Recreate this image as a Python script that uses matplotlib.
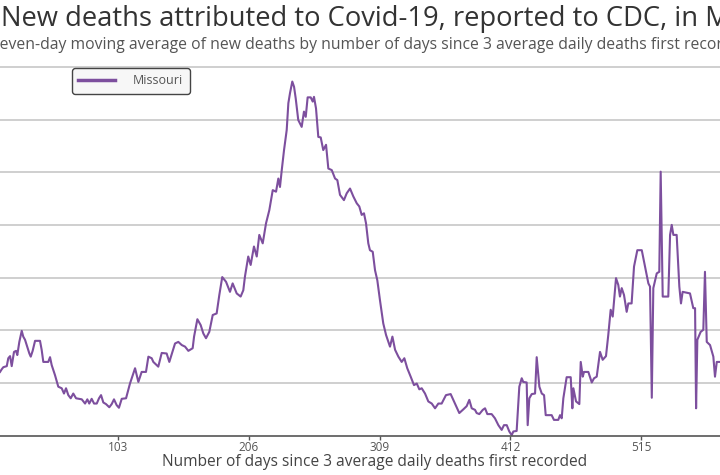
import matplotlib
matplotlib.use("Agg")
from matplotlib import pyplot as plt

plt.rcParams['font.family'] = ['Open Sans', 'DejaVu Sans']

# days since 3 average daily deaths first recorded
days = [9.8, 11.1, 12.4, 15.1, 16.3, 17.7, 19.0, 20.8, 22.4, 23.4, 25.0, 26.9, 28.1, 29.5,
        30.8, 32.9, 34.0, 35.5, 37.4, 41.3, 42.6, 43.9, 47.8, 49.2, 50.5, 53.1, 55.7, 58.4,
        60.2, 61.8, 63.6, 65.5, 67.5, 69.7, 74.2, 76.8, 78.6, 80.1, 82.0, 83.9, 86.0, 87.8,
        89.4, 91.2, 93.3, 95.9, 97.8, 99.6, 101.7, 103.5, 105.7, 109.1, 112.2, 116.2, 118.8,
        121.4, 124.8, 126.7, 129.3, 130.6, 134.5, 137.2, 141.1, 143.2, 147.7, 150.3, 153.0,
        155.6, 158.2, 161.6, 162.7, 165.3, 167.9, 170.0, 172.1, 174.7, 177.4, 180.5, 182.6,
        184.9, 187.9, 191.0, 193.1, 196.3, 199.4, 201.5, 202.8, 205.4, 207.3, 209.9, 212.1,
        214.1, 216.8, 219.4, 222.0, 224.7, 227.3, 229.1, 230.4, 231.8, 233.6, 235.7, 237.0,
        238.3, 240.1, 241.5, 242.8, 244.8, 247.5, 249.3, 250.7, 252.2, 254.6, 256.2, 257.2,
        258.8, 260.6, 262.5, 264.5, 266.7, 268.5, 271.2, 273.8, 275.6, 277.7, 280.8, 283.0,
        285.6, 288.2, 290.9, 292.9, 294.8, 296.6, 298.2, 300.0, 301.3, 303.5, 305.3, 307.1,
        309.2, 311.8, 314.0, 317.1, 319.0, 321.1, 323.7, 326.3, 328.4, 330.7, 333.4, 336.0,
        338.2, 340.2, 342.1, 344.7, 347.3, 350.0, 352.6, 355.2, 357.8, 361.2, 364.9, 368.3,
        371.7, 374.9, 377.5, 379.6, 381.5, 384.1, 385.4, 387.5, 390.2, 392.0, 393.8, 397.2,
        399.8, 402.5, 405.1, 406.9, 409.1, 411.1, 413.0, 414.3, 416.9, 419.0, 420.9, 422.1,
        424.8, 425.6, 426.9, 428.8, 431.4, 432.7, 434.8, 436.7, 438.5, 439.8, 444.5, 446.3,
        449.7, 451.1, 452.4, 453.7, 456.3, 459.5, 460.8, 461.6, 463.7, 466.3, 467.4, 469.0,
        470.0, 473.4, 476.1, 477.9, 480.0, 482.6, 484.7, 487.3, 489.1, 491.0, 492.6, 495.2,
        497.0, 498.3, 499.7, 501.5, 503.6, 504.9, 507.5, 509.4, 512.0, 515.5, 518.1, 520.7,
        522.0, 523.4, 524.6, 527.3, 529.3, 530.4, 532.0, 536.4, 537.8, 539.1, 540.4, 543.0,
        545.1, 546.4, 547.7, 553.5, 556.1, 557.5, 558.3, 559.3, 561.9, 564.0, 565.3, 566.7,
        569.3, 571.9, 573.2, 574.6, 577.2]

# seven-day moving average of new deaths
deaths = [12.1, 12.6, 13.0, 13.2, 14.7, 15.1, 13.2, 15.9, 16.1, 15.3, 17.8, 19.9, 18.8, 18.2,
          17.2, 15.6, 15.0, 16.1, 18.0, 18.0, 16.3, 14.0, 14.0, 14.9, 13.4, 11.5, 9.3, 9.0,
          8.0, 9.0, 7.7, 7.1, 8.0, 7.1, 6.9, 6.1, 6.9, 6.1, 7.0, 6.1, 6.1, 7.1,
          7.7, 6.3, 6.0, 5.4, 6.0, 6.9, 5.8, 5.3, 7.0, 7.1, 9.9, 12.8, 10.2,
          12.1, 12.1, 15.0, 14.7, 14.0, 13.1, 15.7, 15.6, 14.0, 17.5, 17.8, 17.2,
          16.9, 16.1, 16.6, 18.8, 22.1, 21.0, 19.4, 18.5, 19.7, 22.9, 23.2, 26.7,
          30.1, 29.2, 27.3, 28.9, 27.0, 26.4, 27.6, 30.2, 34.0, 32.4, 35.9, 34.0,
          38.1, 36.5, 40.3, 42.8, 46.6, 46.3, 48.8, 47.2, 50.4, 54.2, 58.0, 63.1,
          65.0, 67.2, 66.2, 64.0, 59.9, 58.6, 61.5, 60.5, 64.2, 64.2, 63.4, 64.3,
          62.1, 56.7, 56.6, 54.2, 55.2, 50.7, 50.4, 48.8, 48.5, 45.7, 44.7, 46.0,
          46.9, 45.4, 44.1, 43.5, 41.9, 42.2, 40.3, 36.5, 35.2, 34.9, 31.4, 29.5,
          25.7, 21.3, 19.1, 16.9, 18.8, 16.3, 15.0, 14.0, 14.7, 12.8, 11.2, 9.6,
          9.9, 8.8, 9.0, 8.0, 6.5, 6.1, 5.2, 6.1, 6.1, 7.7, 7.9, 6.1,
          4.3, 5.0, 5.6, 6.8, 5.2, 4.9, 4.3, 4.1, 4.9, 5.2, 4.1, 4.1,
          3.3, 2.0, 1.1, 2.0, 2.0, 0.8, 0.1, 0.8, 0.9, 9.3, 10.9, 10.2,
          10.1, 2.0, 7.1, 7.9, 8.0, 14.9, 9.3, 8.0, 7.7, 3.9, 3.9, 3.0,
          3.0, 3.9, 3.3, 7.1, 11.1, 11.1, 5.2, 9.0, 6.5, 6.0, 14.0, 11.2,
          12.1, 12.1, 10.1, 10.9, 11.2, 15.9, 14.4, 15.1, 19.1, 23.9, 22.6, 29.9,
          28.6, 26.4, 28.0, 26.7, 23.5, 25.1, 25.1, 32.1, 35.2, 35.2, 32.1, 28.9,
          28.3, 7.2, 28.0, 30.8, 31.1, 50.1, 26.4, 26.4, 38.1, 40.0, 38.1, 38.1,
          28.3, 25.1, 27.3, 27.0, 24.2, 24.2, 5.2, 18.2, 19.7, 20.1, 31.1, 17.8,
          17.2, 15.0, 11.2, 14.0, 14.0]

xticks = [103, 206, 309, 412, 515]
gridlines = [10, 20, 30, 40, 50, 60, 70]

fig = plt.figure(figsize=(7.2, 4.75), dpi=100)
# the original is a crop of a wider chart: axes run past the left and right edges
ax = fig.add_axes([-12.4 / 720, 39.3 / 475, 620 * 1.269 / 720, 72 * 5.27 / 475])
ax.plot(days, deaths, color='#7d4f9e', lw=1.5, label='Missouri')

ax.set_xlim(0, 620)
ax.set_ylim(0, 72)
ax.set_xticks(xticks)
ax.set_yticks(gridlines)
ax.set_yticklabels([])
ax.tick_params(axis='y', length=0)
ax.tick_params(axis='x', direction='out', length=3, width=1, color='#555555',
               labelsize=8.5, labelcolor='#555555', pad=1)
ax.yaxis.grid(True, color='#cccccc', lw=1.3)
ax.set_axisbelow(True)
for s in ['left', 'right', 'top']:
    ax.spines[s].set_visible(False)
ax.spines['bottom'].set_color('#555555')
ax.spines['bottom'].set_linewidth(1.2)

fig.text(375 / 720, (475 - 462) / 475, 'Number of days since 3 average daily deaths first recorded',
         ha='center', va='center', fontsize=11.2, color='#444444')
fig.text(1 / 720, (475 - 19) / 475, 'New deaths attributed to Covid-19, reported to CDC, in Missouri',
         ha='left', va='center', fontsize=19.7, color='#333333')
fig.text(-9 / 720, (475 - 45) / 475,
         'Seven-day moving average of new deaths by number of days since 3 average daily deaths first recorded',
         ha='left', va='center', fontsize=11.3, color='#555555')

leg = ax.legend(loc='upper left', bbox_to_anchor=(72 / 720, 1 - 68 / 475),
                bbox_transform=fig.transFigure, fontsize=9, handlelength=2.9,
                handletextpad=1.5, borderpad=0.5, borderaxespad=0, fancybox=True,
                edgecolor='#444444', facecolor='#f7f7f7', framealpha=1)
for t in leg.get_texts():
    t.set_color('#555555')
for h in leg.get_lines():
    h.set_linewidth(2.5)

fig.savefig('out.png', dpi=100)
